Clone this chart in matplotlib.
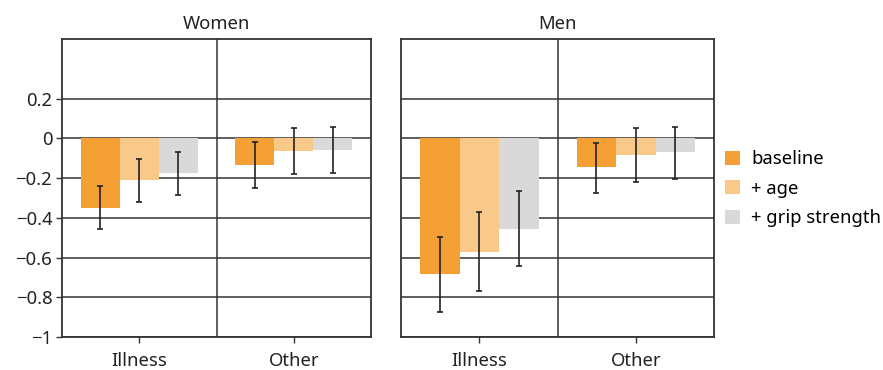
import numpy as np
import matplotlib
matplotlib.use("Agg")
import matplotlib.pyplot as plt
from matplotlib.patches import Patch

plt.rcParams["font.family"] = ["Noto Sans", "DejaVu Sans"]
plt.rcParams["axes.unicode_minus"] = True

# data
categories = ["Illness", "Other"]
series = ["baseline", "+ age", "+ grip strength"]
colors = ["#F4A035", "#F9C98A", "#D9D9D9"]

women_values = [[-0.353, -0.136], [-0.212, -0.065], [-0.175, -0.060]]
women_lower = [[-0.458, -0.248], [-0.322, -0.178], [-0.285, -0.176]]
women_upper = [[-0.242, -0.020], [-0.102, 0.054], [-0.067, 0.055]]

men_values = [[-0.685, -0.146], [-0.572, -0.086], [-0.458, -0.071]]
men_lower = [[-0.875, -0.274], [-0.769, -0.218], [-0.645, -0.205]]
men_upper = [[-0.495, -0.022], [-0.373, 0.050], [-0.267, 0.059]]

yticks = [0.2, 0, -0.2, -0.4, -0.6, -0.8, -1]
ytick_labels = ["0.2", "0", "\u22120.2", "\u22120.4", "\u22120.6", "\u22120.8", "\u22121"]

fig = plt.figure(figsize=(8.83, 3.70), dpi=100)
ax_w = fig.add_axes([0.0702, 0.0892, 0.350, 0.8054])
ax_m = fig.add_axes([0.4545, 0.0892, 0.3541, 0.8054])

dark = "#333333"
fs = 13.3
width = 0.252
x = np.arange(len(categories))

def draw_panel(ax, title, values, lower, upper, show_y):
    for i in range(len(series)):
        v = np.array(values[i])
        lo = v - np.array(lower[i])
        hi = np.array(upper[i]) - v
        pos = x + (i - 1) * width
        ax.bar(pos, v, width, color=colors[i], zorder=2)
        ax.errorbar(pos, v, yerr=[lo, hi], fmt="none", ecolor="#222222",
                    elinewidth=1.2, capsize=2.5, capthick=1.2, zorder=3)
    ax.set_xlim(-0.5, 1.5)
    ax.set_ylim(-1, 0.5)
    for t in yticks:
        ax.axhline(t, color=dark, lw=1.1, zorder=1)
    ax.axvline(0.5, color=dark, lw=1.1, zorder=1)
    ax.set_xticks(x)
    ax.set_xticklabels(categories, fontsize=fs, color="#222222")
    ax.set_yticks(yticks)
    if show_y:
        ax.set_yticklabels(ytick_labels, fontsize=fs, color="#222222")
        ax.tick_params(axis="y", length=4, width=1, color=dark, pad=3)
    else:
        ax.set_yticklabels([])
        ax.tick_params(axis="y", length=0)
    ax.tick_params(axis="x", length=4, width=1, color=dark, pad=7)
    for s in ax.spines.values():
        s.set_color(dark)
        s.set_linewidth(1.3)
    ax.set_title(title, fontsize=fs, color="#222222", pad=7)

draw_panel(ax_w, "Women", women_values, women_lower, women_upper, True)
draw_panel(ax_m, "Men", men_values, men_lower, men_upper, False)

handles = [Patch(facecolor=c, edgecolor="none") for c in colors]
fig.legend(handles, series, loc="upper left", bbox_to_anchor=(0.813, 0.614),
           frameon=False, fontsize=fs, handlelength=0.8, handleheight=0.8,
           handletextpad=0.6, labelspacing=0.62, borderaxespad=0)

fig.savefig("out.png", dpi=100)
